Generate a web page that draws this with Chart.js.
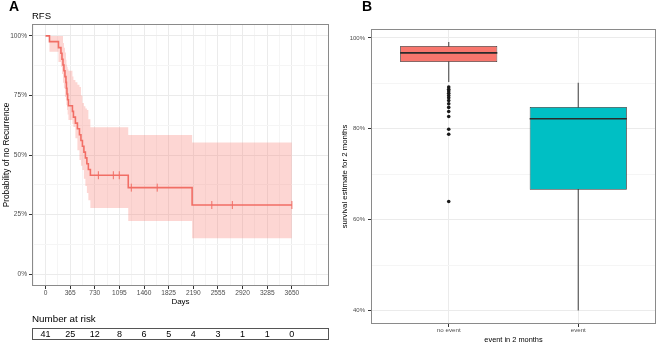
<!DOCTYPE html>
<html lang="en">
<head>
    <meta charset="UTF-8">
    <title>RFS</title>
    <script src="https://cdn.jsdelivr.net/npm/chart.js"></script>
    <style>
        body { margin: 0; background: #fff; }
        #wrap { position: relative; width: 658px; height: 345px; }
        #left { position: absolute; left: 0; top: 0; }
        #right { position: absolute; left: 330px; top: 0; }
    </style>
</head>
<body>
<div id="wrap">
    <canvas id="left" width="330" height="345"></canvas>
    <canvas id="right" width="328" height="345"></canvas>
</div>

<script>
    // panel A: Kaplan-Meier, relapse free survival
    const kmDays  = [0, 59, 192, 229, 244, 259, 273, 288, 303, 310, 318, 328, 340, 399, 414, 443, 473, 503, 525, 547, 569, 591, 613, 635, 665, 1226, 2172, 3650];
    const kmSurv  = [100, 97.6, 95.1, 92.7, 90.2, 87.8, 85.4, 82.9, 80.5, 78.0, 75.6, 73.2, 70.7, 68.3, 65.9, 63.4, 61.0, 58.5, 56.1, 53.7, 51.2, 48.8, 46.3, 43.9, 41.5, 36.3, 29.0, 29.0];
    const kmLower = [100, 93.3, 89.0, 87.0, 84.0, 80.3, 78.0, 74.4, 73.0, 71.0, 68.9, 67.0, 64.7, 63.0, 61.8, 57.0, 52.0, 47.9, 45.5, 43.7, 40.0, 37.0, 34.0, 31.0, 27.7, 22.3, 15.0, 15.0];
    const kmUpper = [100, 100, 100, 100, 100, 97.0, 95.0, 93.0, 90.0, 88.0, 87.0, 86.0, 85.4, 83.0, 81.5, 80.5, 79.5, 78.6, 75.0, 71.8, 70.5, 69.5, 68.9, 65.0, 61.7, 58.4, 55.3, 55.3];
    const censorDays = [783, 1005, 1093, 1271, 1655, 2464, 2768, 3650];
    const censorSurv = [41.5, 41.5, 41.5, 36.3, 36.3, 29.0, 29.0, 29.0];
    const dayTicks = [0, 365, 730, 1095, 1460, 1825, 2190, 2555, 2920, 3285, 3650];
    const riskCounts = [41, 25, 12, 8, 6, 5, 4, 3, 1, 1, 0];
    const probTicks = [0, 25, 50, 75, 100];

    // panel B: boxplots
    const groups = ['no event', 'event'];
    const boxMin = [90.3, 40.0];
    const boxQ1 = [94.7, 66.6];
    const boxMedian = [96.7, 82.2];
    const boxQ3 = [98.2, 84.8];
    const boxMax = [99.1, 90.1];
    const outliersNoEvent = [89.2, 88.7, 88.3, 87.8, 87.3, 86.8, 86.2, 85.5, 84.7, 83.8, 82.7, 79.9, 78.8, 64.0];
    const survTicks = [40, 60, 80, 100];

    const FONT = '"Liberation Sans", Arial, sans-serif';
    Chart.defaults.font.family = FONT;
    Chart.defaults.color = '#4d4d4d';

    const lineRed = '#EE6A62';
    const bandRed = 'rgba(248,118,109,0.3)';
    const gridMajor = '#ebebeb';
    const gridMinor = '#f5f5f5';

    function pts(xs, ys) {
        return xs.map((x, i) => ({x: x, y: ys[i]}));
    }

    const panelBorder = {
        id: 'panelBorder',
        afterDraw(chart) {
            const a = chart.chartArea;
            const ctx = chart.ctx;
            ctx.save();
            ctx.strokeStyle = '#8a8a8a';
            ctx.lineWidth = 1;
            ctx.strokeRect(Math.round(a.left) + 0.5, Math.round(a.top) + 0.5,
                Math.round(a.right - a.left) - 1, Math.round(a.bottom - a.top) - 1);
            ctx.restore();
        }
    };

    const leftDecor = {
        id: 'leftDecor',
        afterDraw(chart) {
            const ctx = chart.ctx;
            const xs = chart.scales.x;
            const a = chart.chartArea;
            ctx.save();
            ctx.fillStyle = '#000';
            ctx.textBaseline = 'middle';
            ctx.font = 'bold 14px ' + FONT;
            ctx.fillText('A', 9, 7);
            ctx.font = '9.5px ' + FONT;
            ctx.fillText('RFS', 32, 16);
            ctx.font = '9.8px ' + FONT;
            ctx.fillText('Number at risk', 32, 319);
            ctx.strokeStyle = '#555';
            ctx.lineWidth = 1;
            ctx.strokeRect(Math.round(a.left) + 0.5, 328.5, Math.round(a.right - a.left) - 1, 11);
            ctx.font = '9px ' + FONT;
            ctx.textAlign = 'center';
            dayTicks.forEach((d, i) => {
                ctx.fillText(String(riskCounts[i]), xs.getPixelForValue(d), 334.5);
            });
            ctx.restore();
        }
    };

    const rightDecor = {
        id: 'rightDecor',
        afterDraw(chart) {
            const ctx = chart.ctx;
            ctx.save();
            ctx.fillStyle = '#000';
            ctx.textBaseline = 'middle';
            ctx.font = 'bold 14px ' + FONT;
            ctx.fillText('B', 32, 7);
            ctx.restore();
        }
    };

    const isMajorDay = v => v % 365 === 0 && v >= 0 && v <= 3650;

    let left = new Chart(document.getElementById('left'), {
        type: 'line',
        data: {
            datasets: [
                {
                    data: pts(kmDays, kmUpper),
                    stepped: 'before',
                    borderColor: 'rgba(0,0,0,0)',
                    borderWidth: 0,
                    pointRadius: 0,
                    backgroundColor: bandRed,
                    fill: '+1'
                },
                {
                    data: pts(kmDays, kmLower),
                    stepped: 'before',
                    borderColor: 'rgba(0,0,0,0)',
                    borderWidth: 0,
                    pointRadius: 0,
                    fill: false
                },
                {
                    data: pts(kmDays, kmSurv),
                    stepped: 'before',
                    borderColor: lineRed,
                    borderWidth: 1.6,
                    pointRadius: 0,
                    fill: false
                },
                {
                    data: pts(censorDays, censorSurv),
                    showLine: false,
                    pointStyle: 'line',
                    rotation: 90,
                    pointRadius: 4,
                    borderColor: lineRed,
                    pointBorderWidth: 1,
                    fill: false
                }
            ]
        },
        options: {
            responsive: false,
            animation: false,
            events: [],
            layout: {autoPadding: false, padding: {top: 24, right: 1, bottom: 35, left: 0}},
            plugins: {legend: {display: false}, tooltip: {enabled: false}},
            scales: {
                x: {
                    type: 'linear',
                    min: -200,
                    max: 4200,
                    afterBuildTicks: s => {
                        const t = [];
                        for (let k = -1; k <= 23; k++) t.push({value: k * 182.5});
                        s.ticks = t;
                    },
                    afterFit: s => { s.height = 24; },
                    ticks: {
                        autoSkip: false,
                        maxRotation: 0,
                        padding: 0,
                        font: {size: 6.6},
                        callback: v => isMajorDay(v) ? String(v) : ''
                    },
                    grid: {
                        color: c => c.tick && isMajorDay(c.tick.value) ? gridMajor : gridMinor,
                        tickColor: c => c.tick && isMajorDay(c.tick.value) ? '#333' : 'rgba(0,0,0,0)',
                        tickLength: 3
                    },
                    border: {display: false},
                    title: {display: true, text: 'Days', color: '#000', font: {size: 8}, padding: {top: 0, bottom: 3}}
                },
                y: {
                    min: -5,
                    max: 105,
                    afterBuildTicks: s => {
                        const t = [];
                        for (let v = 0; v <= 100; v += 12.5) t.push({value: v});
                        s.ticks = t;
                    },
                    afterFit: s => { s.width = 32; },
                    ticks: {
                        autoSkip: false,
                        padding: 2,
                        font: {size: 6.6},
                        callback: v => probTicks.includes(v) ? v + '%' : ''
                    },
                    grid: {
                        color: c => c.tick && probTicks.includes(c.tick.value) ? gridMajor : gridMinor,
                        tickColor: c => c.tick && probTicks.includes(c.tick.value) ? '#333' : 'rgba(0,0,0,0)',
                        tickLength: 3
                    },
                    border: {display: false},
                    title: {display: true, text: 'Probability of no Recurrence', color: '#000', font: {size: 8.3}, padding: {top: 2, bottom: 0}}
                }
            }
        },
        plugins: [panelBorder, leftDecor]
    });

    let right = new Chart(document.getElementById('right'), {
        type: 'bar',
        data: {
            datasets: [
                {
                    // whiskers: min to max, drawn under the box
                    type: 'bar',
                    data: groups.map((g, i) => ({x: i + 1, y: [boxMin[i], boxMax[i]]})),
                    backgroundColor: '#5a5a5a',
                    maxBarThickness: 1.2,
                    grouped: false,
                    order: 3
                },
                {
                    type: 'bar',
                    data: groups.map((g, i) => ({x: i + 1, y: [boxQ1[i], boxQ3[i]]})),
                    backgroundColor: ['#F8766D', '#00BFC4'],
                    borderColor: '#333',
                    borderWidth: 0.8,
                    borderSkipped: false,
                    barPercentage: 0.75,
                    categoryPercentage: 1,
                    grouped: false,
                    order: 2
                },
                {
                    // median as a thin bar across the box
                    type: 'bar',
                    data: groups.map((g, i) => ({x: i + 1, y: [boxMedian[i] - 0.17, boxMedian[i] + 0.17]})),
                    backgroundColor: '#2b2b2b',
                    barPercentage: 0.75,
                    categoryPercentage: 1,
                    grouped: false,
                    order: 1
                },
                {
                    type: 'line',
                    data: outliersNoEvent.map(v => ({x: 1, y: v})),
                    showLine: false,
                    pointRadius: 1.8,
                    pointBackgroundColor: '#1a1a1a',
                    pointBorderWidth: 0,
                    order: 0
                }
            ]
        },
        options: {
            responsive: false,
            animation: false,
            events: [],
            layout: {autoPadding: false, padding: {top: 29, right: 2, bottom: 0, left: 0}},
            plugins: {legend: {display: false}, tooltip: {enabled: false}},
            scales: {
                x: {
                    type: 'linear',
                    min: 0.4,
                    max: 2.6,
                    offset: false,
                    afterBuildTicks: s => { s.ticks = groups.map((g, i) => ({value: i + 1})); },
                    afterFit: s => { s.height = 21; },
                    ticks: {
                        autoSkip: false,
                        maxRotation: 0,
                        padding: 0,
                        font: {size: 6.2},
                        callback: v => groups[v - 1]
                    },
                    grid: {offset: false, color: gridMajor, tickColor: '#333', tickLength: 3},
                    border: {display: false},
                    title: {display: true, text: 'event in 2 months', color: '#000', font: {size: 7.4}, padding: {top: 0, bottom: 1}}
                },
                y: {
                    min: 37.05,
                    max: 101.95,
                    afterBuildTicks: s => {
                        const t = [];
                        for (let v = 40; v <= 100; v += 10) t.push({value: v});
                        s.ticks = t;
                    },
                    afterFit: s => { s.width = 41; },
                    ticks: {
                        autoSkip: false,
                        padding: 3,
                        font: {size: 6},
                        callback: v => survTicks.includes(v) ? v + '%' : ''
                    },
                    grid: {
                        color: c => c.tick && survTicks.includes(c.tick.value) ? gridMajor : gridMinor,
                        tickColor: c => c.tick && survTicks.includes(c.tick.value) ? '#333' : 'rgba(0,0,0,0)',
                        tickLength: 3
                    },
                    border: {display: false},
                    title: {display: true, text: 'survival estimate for 2 months', color: '#000', font: {size: 7.8}, padding: {top: 10, bottom: 0}}
                }
            }
        },
        plugins: [panelBorder, rightDecor]
    });
</script>
</body>
</html>
